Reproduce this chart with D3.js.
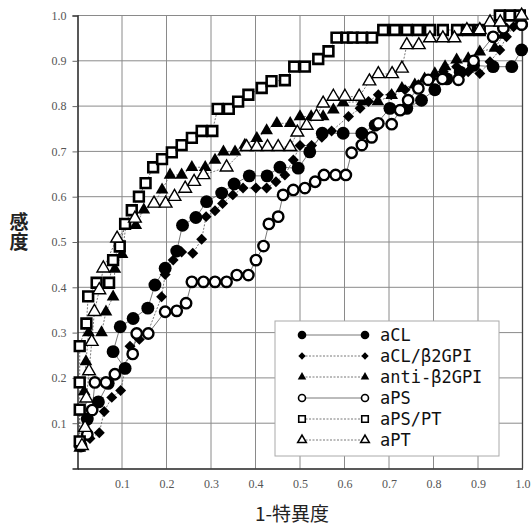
<!DOCTYPE html>
<html>
<head>
<meta charset="utf-8">
<script src="https://cdn.jsdelivr.net/npm/d3@7"></script>
<style>
  body { margin: 0; background: #fff; }
  svg { display: block; }
</style>
</head>
<body>
<div id="chart"></div>
<script>
// ROC curves, values: [1-specificity, sensitivity]
var aCL = [[0.006,0.05],[0.022,0.109],[0.047,0.147],[0.069,0.188],[0.107,0.221],[0.08,0.258],[0.096,0.313],[0.125,0.331],[0.158,0.354],[0.174,0.405],[0.197,0.442],[0.223,0.48],[0.236,0.537],[0.266,0.554],[0.29,0.589],[0.324,0.608],[0.352,0.628],[0.386,0.646],[0.426,0.646],[0.455,0.665],[0.496,0.663],[0.522,0.699],[0.55,0.74],[0.597,0.74],[0.639,0.74],[0.669,0.758],[0.702,0.795],[0.74,0.795],[0.773,0.813],[0.803,0.836],[0.83,0.86],[0.86,0.875],[0.89,0.89],[0.934,0.887],[0.976,0.887],[0.998,0.924],[0.998,0.98]]
var aCLb2 = [[0.01,0.048],[0.028,0.066],[0.049,0.079],[0.06,0.126],[0.077,0.157],[0.097,0.172],[0.118,0.27],[0.139,0.285],[0.157,0.298],[0.189,0.379],[0.197,0.428],[0.215,0.46],[0.234,0.478],[0.259,0.475],[0.279,0.506],[0.289,0.556],[0.309,0.569],[0.326,0.585],[0.349,0.604],[0.372,0.619],[0.401,0.619],[0.425,0.619],[0.446,0.633],[0.466,0.648],[0.485,0.681],[0.5,0.713],[0.526,0.713],[0.549,0.731],[0.571,0.745],[0.609,0.777],[0.635,0.795],[0.654,0.81],[0.676,0.825],[0.705,0.825],[0.736,0.836],[0.766,0.847],[0.796,0.861],[0.822,0.876],[0.852,0.887],[0.878,0.876],[0.904,0.872],[0.927,0.898],[0.949,0.924],[0.964,0.953],[0.98,0.975],[0.998,0.983]]
var antiB2 = [[0.005,0.045],[0.005,0.125],[0.015,0.17],[0.019,0.236],[0.025,0.3],[0.054,0.3],[0.064,0.346],[0.08,0.379],[0.084,0.44],[0.1,0.473],[0.109,0.537],[0.131,0.537],[0.149,0.571],[0.172,0.585],[0.19,0.615],[0.208,0.648],[0.234,0.648],[0.257,0.665],[0.287,0.665],[0.309,0.681],[0.328,0.699],[0.354,0.699],[0.376,0.714],[0.403,0.729],[0.425,0.746],[0.448,0.762],[0.478,0.762],[0.5,0.777],[0.525,0.777],[0.552,0.777],[0.575,0.792],[0.597,0.808],[0.64,0.81],[0.675,0.81],[0.706,0.824],[0.729,0.839],[0.758,0.847],[0.78,0.86],[0.803,0.872],[0.826,0.887],[0.852,0.902],[0.878,0.905],[0.904,0.92],[0.938,0.928],[0.957,0.957],[0.994,0.986]]
var aPS = [[0.008,0.05],[0.022,0.075],[0.033,0.129],[0.039,0.19],[0.064,0.19],[0.084,0.208],[0.124,0.253],[0.133,0.298],[0.159,0.298],[0.197,0.346],[0.223,0.348],[0.244,0.365],[0.257,0.412],[0.283,0.412],[0.309,0.412],[0.335,0.412],[0.358,0.427],[0.384,0.427],[0.401,0.46],[0.418,0.491],[0.43,0.54],[0.451,0.556],[0.462,0.604],[0.485,0.615],[0.511,0.619],[0.534,0.633],[0.554,0.648],[0.58,0.648],[0.603,0.648],[0.616,0.697],[0.639,0.714],[0.661,0.731],[0.676,0.762],[0.706,0.76],[0.725,0.791],[0.743,0.813],[0.766,0.839],[0.788,0.858],[0.82,0.86],[0.856,0.858],[0.89,0.9],[0.934,0.953],[0.957,0.972],[0.998,0.98]]
var aPSPT = [[0.005,0.06],[0.005,0.13],[0.005,0.19],[0.005,0.27],[0.02,0.32],[0.024,0.38],[0.043,0.41],[0.071,0.41],[0.08,0.46],[0.095,0.49],[0.107,0.54],[0.122,0.57],[0.138,0.6],[0.153,0.63],[0.17,0.665],[0.19,0.683],[0.212,0.698],[0.234,0.714],[0.257,0.73],[0.279,0.745],[0.303,0.745],[0.315,0.794],[0.34,0.794],[0.361,0.81],[0.384,0.825],[0.414,0.84],[0.436,0.855],[0.466,0.857],[0.487,0.887],[0.511,0.887],[0.541,0.904],[0.564,0.921],[0.582,0.951],[0.605,0.951],[0.619,0.951],[0.639,0.951],[0.662,0.951],[0.687,0.968],[0.713,0.968],[0.74,0.968],[0.765,0.968],[0.792,0.968],[0.821,0.968],[0.853,0.968],[0.878,0.968],[0.904,0.968],[0.949,1.0],[0.972,1.0],[0.994,1.0]]
var aPT = [[0.01,0.05],[0.017,0.09],[0.02,0.155],[0.026,0.215],[0.032,0.28],[0.038,0.346],[0.049,0.394],[0.058,0.442],[0.089,0.508],[0.129,0.552],[0.172,0.585],[0.198,0.585],[0.218,0.6],[0.242,0.618],[0.262,0.633],[0.283,0.648],[0.335,0.665],[0.38,0.71],[0.403,0.71],[0.427,0.71],[0.451,0.71],[0.478,0.71],[0.494,0.742],[0.515,0.757],[0.537,0.777],[0.552,0.806],[0.575,0.821],[0.601,0.821],[0.633,0.821],[0.656,0.855],[0.676,0.871],[0.707,0.871],[0.729,0.883],[0.74,0.935],[0.767,0.935],[0.792,0.95],[0.821,0.95],[0.847,0.95],[0.875,0.968],[0.904,0.968],[0.927,0.985],[0.95,0.985],[0.998,1.0]]

var seriesNames = ["aCL", "aCL/\u03b22GPI", "anti-\u03b22GPI", "aPS", "aPS/PT", "aPT"]
var seriesData = [aCL, aCLb2, antiB2, aPS, aPSPT, aPT]
var tickValues = [0.1, 0.2, 0.3, 0.4, 0.5, 0.6, 0.7, 0.8, 0.9, 1.0]

var width = 532
var height = 526
var x = d3.scaleLinear().domain([0, 1]).range([77.5, 522.5])
var y = d3.scaleLinear().domain([0, 1]).range([468.5, 15.5])

// marker look per series: symbol, size (area), filled?, dashed line?, stroke width
var styles = [
    { sym: d3.symbolCircle, size: 130, fill: true, dash: null, sw: 0, rot: 0 },
    { sym: d3.symbolSquare, size: 60, fill: true, dash: "2,1.5", sw: 0, rot: 45 },
    { sym: d3.symbolTriangle, size: 70, fill: true, dash: "2,1.5", sw: 0, rot: 0 },
    { sym: d3.symbolCircle, size: 85, fill: false, dash: null, sw: 2.4, rot: 0 },
    { sym: d3.symbolSquare, size: 95, fill: false, dash: "2,1.5", sw: 2.6, rot: 0 },
    { sym: d3.symbolTriangle, size: 70, fill: false, dash: "2,1.5", sw: 1.4, rot: 0 }
]

var svg = d3.select("#chart").append("svg")
    .attr("width", width)
    .attr("height", height)

// grid
var grid = svg.append("g").attr("class", "grid")
grid.selectAll("line.gx").data(tickValues).enter().append("line")
    .attr("x1", function(d) { return x(d) }).attr("x2", function(d) { return x(d) })
    .attr("y1", y(0)).attr("y2", y(1))
    .attr("stroke", "#8a8a8a").attr("stroke-width", 1)
grid.selectAll("line.gy").data(tickValues).enter().append("line")
    .attr("x1", x(0)).attr("x2", x(1))
    .attr("y1", function(d) { return y(d) }).attr("y2", function(d) { return y(d) })
    .attr("stroke", "#8a8a8a").attr("stroke-width", 1)

// axes
var xAxis = svg.append("g")
    .attr("transform", "translate(0," + y(0) + ")")
    .call(d3.axisBottom(x).tickValues(tickValues).tickFormat(d3.format(".1f")).tickSize(0).tickPadding(11))
var yAxis = svg.append("g")
    .attr("transform", "translate(" + x(0) + ",0)")
    .call(d3.axisLeft(y).tickValues(tickValues).tickFormat(d3.format(".1f")).tickSize(5).tickPadding(6))
;[xAxis, yAxis].forEach(function(a) {
    a.select(".domain").attr("stroke", "#222").attr("stroke-width", 1.5)
    a.selectAll(".tick line").attr("stroke", "#666")
    a.selectAll("text")
        .attr("fill", "#555")
        .style("font-family", "'Liberation Serif', 'DejaVu Serif', serif")
        .style("font-size", "12px")
})

// right border
svg.append("line")
    .attr("x1", x(1)).attr("x2", x(1)).attr("y1", y(0)).attr("y2", y(1))
    .attr("stroke", "#444").attr("stroke-width", 1.3)

var line = d3.line()
    .x(function(d) { return x(d[0]) })
    .y(function(d) { return y(d[1]) })

function drawMarker(sel, st, size) {
    sel.attr("d", d3.symbol().type(st.sym).size(size))
        .attr("fill", st.fill ? "#000" : "#fff")
        .attr("stroke", st.fill ? "none" : "#000")
        .attr("stroke-width", st.sw)
}

var plot = svg.append("g").attr("class", "series")
seriesData.forEach(function(data, i) {
    var st = styles[i]
    plot.append("path")
        .datum(data)
        .attr("d", line)
        .attr("fill", "none")
        .attr("stroke", "#555")
        .attr("stroke-width", 0.8)
        .attr("stroke-dasharray", st.dash)
})
seriesData.forEach(function(data, i) {
    var st = styles[i]
    plot.append("g").selectAll("path").data(data).enter().append("path")
        .attr("transform", function(d) {
            return "translate(" + x(d[0]) + "," + y(d[1]) + ") rotate(" + st.rot + ")"
        })
        .call(drawMarker, st, st.size)
})

// legend
var lg = svg.append("g").attr("transform", "translate(275,321)")
lg.append("rect")
    .attr("width", 224).attr("height", 135)
    .attr("fill", "#fff").attr("stroke", "#aaa").attr("stroke-width", 1)
seriesNames.forEach(function(name, i) {
    var st = styles[i]
    var ry = 14 + i * 21
    lg.append("line")
        .attr("x1", 27).attr("x2", 90).attr("y1", ry).attr("y2", ry)
        .attr("stroke", "#555").attr("stroke-width", 0.8)
        .attr("stroke-dasharray", st.dash)
    ;[27, 90].forEach(function(mx) {
        lg.append("path")
            .attr("transform", "translate(" + mx + "," + ry + ") rotate(" + st.rot + ")")
            .call(drawMarker, st, st.size * 0.45)
            .attr("stroke-width", st.fill ? 0 : 1.6)
    })
    lg.append("text")
        .attr("x", 105).attr("y", ry)
        .attr("dy", "0.35em")
        .attr("fill", "#111")
        .style("font-family", "'DejaVu Sans Mono', 'Liberation Mono', monospace")
        .style("font-size", "17px")
        .text(name)
})

// axis titles
svg.append("text")
    .attr("x", 292).attr("y", 521)
    .attr("text-anchor", "middle")
    .attr("fill", "#222")
    .style("font-family", "'Noto Sans CJK JP', sans-serif")
    .style("font-size", "19px")
    .text("1-\u7279\u7570\u5ea6")
// vertical title, written top to bottom
svg.append("text")
    .attr("x", 19).attr("y", 212)
    .attr("fill", "#222")
    .style("writing-mode", "vertical-rl")
    .style("font-family", "'Noto Sans CJK JP', sans-serif")
    .style("font-size", "19px")
    .style("font-weight", "bold")
    .style("letter-spacing", "1px")
    .text("\u611f\u5ea6")
</script>
</body>
</html>
